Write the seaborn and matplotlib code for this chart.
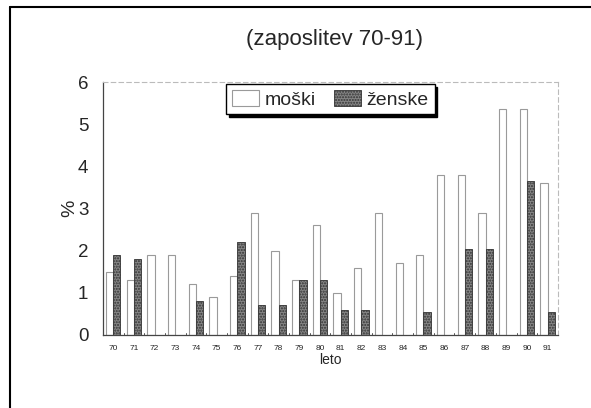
import matplotlib
matplotlib.use("Agg")
import matplotlib.pyplot as plt
import seaborn as sns
import pandas as pd
from matplotlib.lines import Line2D

years = ["70", "71", "72", "73", "74", "75", "76", "77", "78", "79", "80",
         "81", "82", "83", "84", "85", "86", "87", "88", "89", "90", "91"]
moski = [1.5, 1.3, 1.9, 1.9, 1.2, 0.9, 1.4, 2.9, 2.0, 1.3, 2.6,
         1.0, 1.6, 2.9, 1.7, 1.9, 3.8, 3.8, 2.9, 5.35, 5.35, 3.6]
zenske = [1.9, 1.8, 0.0, 0.0, 0.8, 0.0, 2.2, 0.7, 0.7, 1.3, 1.3,
          0.6, 0.6, 0.0, 0.0, 0.55, 0.0, 2.05, 2.05, 0.0, 3.65, 0.55]
series = ["moški", "ženske"]

df = pd.DataFrame({
    "leto": years * 2,
    "val": moski + zenske,
    "spol": [series[0]] * len(years) + [series[1]] * len(years),
})

sns.set_theme(style="white")
plt.rcParams["font.family"] = ["Liberation Sans", "DejaVu Sans"]

fig = plt.figure(figsize=(5.91, 4.08), dpi=100)
ax = fig.add_axes([0.174, 0.179, 0.770, 0.620])

sns.barplot(data=df, x="leto", y="val", hue="spol", order=years,
            hue_order=series, palette=["white", "#858585"], width=0.7,
            ax=ax, legend=False, saturation=1)

n = len(years)
for i, p in enumerate(ax.patches[:2 * n]):
    if i < n:
        p.set_edgecolor("#9a9a9a")
        p.set_linewidth(0.8)
    else:
        p.set_edgecolor("#333333")
        p.set_hatch("......")
        p.set_linewidth(0.6)

ax.set_ylim(0, 6)
ax.set_xlim(-0.5, n - 0.5)
ax.set_yticks(range(0, 7))
ax.tick_params(axis="y", labelsize=13.5, length=3, direction="inout", color="#444444", pad=9)
ax.tick_params(axis="x", labelsize=6, length=0, pad=7)
ax.set_xlabel("leto", fontsize=10, labelpad=1)
ax.set_ylabel("%", fontsize=14, labelpad=0)

for side in ["left", "bottom"]:
    ax.spines[side].set_color("#444444")
    ax.spines[side].set_linewidth(0.9)
for side in ["top", "right"]:
    ax.spines[side].set_color("#bbbbbb")
    ax.spines[side].set_linewidth(0.8)
    ax.spines[side].set_linestyle((0, (4, 3)))

for k in range(n + 1):
    ax.plot([k - 0.5, k - 0.5], [0, 0.05], color="#555555", lw=0.7, clip_on=False)

ax.set_title("(zaposlitev 70-91)", fontsize=16, pad=27, x=0.51)

handles = [plt.Rectangle((0, 0), 1, 1, facecolor="white", edgecolor="#9a9a9a", lw=0.8),
           plt.Rectangle((0, 0), 1, 1, facecolor="#858585", edgecolor="#333333", hatch="......", lw=0.6)]
leg = ax.legend(handles, series, ncol=2, loc="upper center", bbox_to_anchor=(0.5, 1.0),
                borderaxespad=0.1,
                fontsize=14, frameon=True, fancybox=False, edgecolor="black",
                handlelength=1.4, handleheight=0.9, handletextpad=0.3, columnspacing=0.9,
                borderpad=0.3, shadow={"color": "black", "alpha": 1.0}, framealpha=1)
leg.get_frame().set_linewidth(1.0)

fig.add_artist(Line2D([0.017, 0.017], [0.0, 0.983], color="black", lw=1.5))
fig.add_artist(Line2D([0.017, 1.0], [0.983, 0.983], color="black", lw=1.5))

fig.savefig("out.png", dpi=100)
